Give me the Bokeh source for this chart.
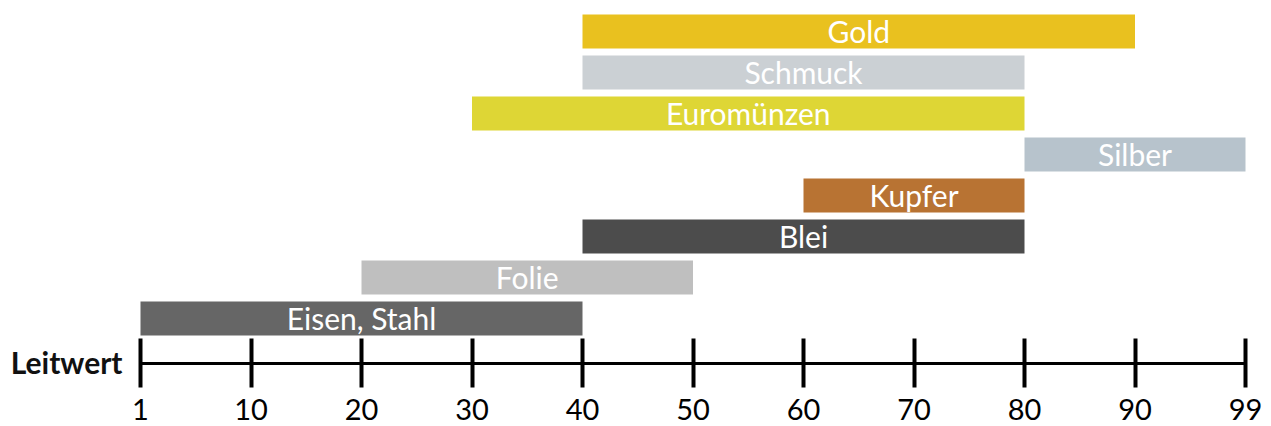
from bokeh.plotting import figure
from bokeh.models import ColumnDataSource, Range1d, FixedTicker
from bokeh.core.properties import value
from bokeh.embed import file_html
from bokeh.resources import INLINE

# --- data ---
materials = ["Eisen, Stahl", "Folie", "Blei", "Kupfer", "Silber", "Euromünzen", "Schmuck", "Gold"]
start_vals = [1, 20, 40, 60, 80, 30, 40, 40]
end_vals = [40, 50, 80, 80, 99, 80, 80, 90]
colors = ["#666666", "#BFBFBF", "#4C4C4C", "#B87333", "#B7C3CC", "#DED635", "#CBD0D4", "#E9C11F"]
tick_labels = [1, 10, 20, 30, 40, 50, 60, 70, 80, 90, 99]
axis_title = "Leitwert"

pos = {v: i for i, v in enumerate(tick_labels)}
src = ColumnDataSource(dict(
    y=list(range(len(materials))),
    left=[pos[v] for v in start_vals],
    right=[pos[v] for v in end_vals],
    mid=[(pos[a] + pos[b]) / 2 for a, b in zip(start_vals, end_vals)],
    name=materials,
    color=colors,
))

unit = 110.5      # px per tick step
left_px = 124     # frame left edge (px)
frame_w = 1271 - left_px
axis_y = -45 / 41
p = figure(frame_width=frame_w, frame_height=424, min_border_left=left_px, min_border_right=0,
           min_border_top=0, min_border_bottom=0,
           x_range=Range1d(-(140 - left_px) / unit, (frame_w - (140 - left_px)) / unit),
           y_range=Range1d(axis_y - 61 / 41, 7 + 31 / 41),
           output_backend="svg", toolbar_location=None)
p.outline_line_color = None
p.xgrid.visible = False
p.ygrid.visible = False

p.hbar(y="y", left="left", right="right", height=34 / 41, fill_color="color",
       line_color=None, source=src)
p.text(x="mid", y="y", text="name", source=src, text_align="center",
       text_baseline="middle", text_color="white", text_font=value("Lato"),
       text_font_size="30px", y_offset=-1)

ax = p.xaxis[0]
ax.fixed_location = axis_y
ax.bounds = (0, len(tick_labels) - 1)
ax.ticker = FixedTicker(ticks=list(range(len(tick_labels))))
ax.major_label_overrides = {i: str(v) for i, v in enumerate(tick_labels)}
ax.axis_line_width = 3
ax.axis_line_color = "black"
ax.major_tick_line_width = 4
ax.major_tick_line_color = "black"
ax.major_tick_in = 25
ax.major_tick_out = 24
ax.minor_tick_line_color = None
ax.major_label_text_font = "Lato"
ax.major_label_text_font_size = "29px"
ax.major_label_text_color = "black"
ax.major_label_standoff = 11

# axis title "Leitwert" placed left of the axis line, via the left axis
title_y = -1.05
yax = p.yaxis[0]
yax.ticker = FixedTicker(ticks=[title_y])
yax.major_label_overrides = {title_y: axis_title}
yax.axis_line_color = None
yax.major_tick_line_color = None
yax.minor_tick_line_color = None
yax.major_tick_in = 0
yax.major_tick_out = 0
yax.major_label_standoff = 2
yax.major_label_text_font = "Lato"
yax.major_label_text_font_style = "bold"
yax.major_label_text_font_size = "30px"
yax.major_label_text_color = "#111111"

open("out.html", "w").write(file_html(p, INLINE))
